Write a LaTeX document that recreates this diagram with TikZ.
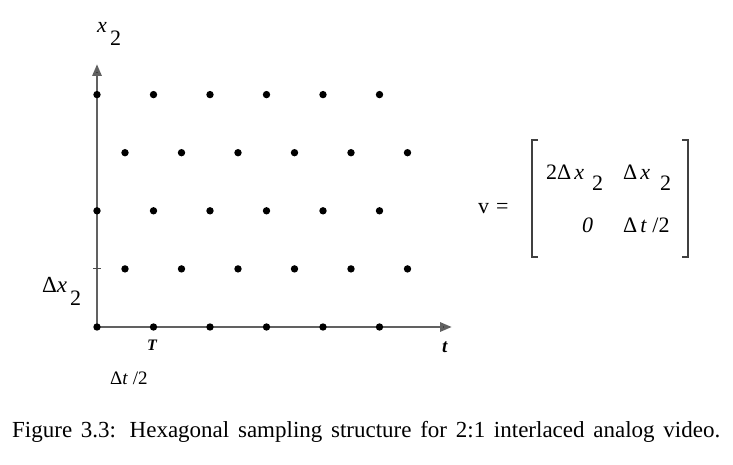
\documentclass[tikz,border=0pt]{standalone}
\usepackage{fontspec}
\setmainfont{Liberation Serif}
\usetikzlibrary{arrows.meta}
\newcommand{\fsz}[1]{\fontsize{#1}{#1}\selectfont}

\begin{document}
\begin{tikzpicture}[x=1pt, y=-1pt,
  dot/.style={fill=black},
  axis/.style={line width=2.8pt, draw=black!62, -{Triangle[length=12pt, width=9pt, fill=black]}},
  lbl/.style={inner sep=0pt, anchor=base west, font=\fsz{22}},
  brk/.style={line width=1.4pt, draw=black!75}
]
  \useasboundingbox[fill=white] (0,0) rectangle (733,465);
  % axes
  \coordinate (o) at (97,327);
  \coordinate (ytip) at (97,64);
  \coordinate (xtip) at (452,327);
  \draw[axis] (o) -- (ytip);
  \draw[axis] (o) -- (xtip);
  \coordinate (tickl) at (93,268.9);
  \coordinate (tickr) at (101,268.9);
  \draw[line width=1pt, black!70] (tickl) -- (tickr);
  % samples, even lines
  \foreach \r in {0,2,4}
    \foreach \i in {0,...,5}
      \fill[dot] (97+56.5*\i, 327-58.1*\r) circle (3.7);
  % samples, odd lines
  \foreach \r in {1,3}
    \foreach \i in {0,...,5}
      \fill[dot] (125+56.5*\i, 327-58.1*\r) circle (3.7);
  % axis labels
  \node[lbl] (xa) at (97,33) {\textit{x}};
  \node[lbl] (xa2) at (110,46) {2};
  \node[lbl, font=\fsz{23}] (dxa) at (42,292) {Δ\textit{x}};
  \node[lbl] (dxa2) at (70,305) {2};
  \node[lbl, font=\fsz{16}] (tper) at (147,350) {\textbf{\textit{T}}};
  \node[lbl, font=\fsz{19}] (tax) at (442,352) {\textbf{\textit{t}}};
  \node[lbl, font=\fsz{19}] (dt) at (110,384) {Δ\textit{t} /2};
  % sampling matrix
  \node[lbl] (v) at (478,214) {v\hspace{7pt}=};
  \node[lbl] (m11) at (546,180) {2Δ\hspace{3pt}\textit{x}};
  \node[lbl] (m11s) at (592,190) {2};
  \node[lbl] (m12) at (623,180) {Δ\hspace{3pt}\textit{x}};
  \node[lbl] (m12s) at (660,190) {2};
  \node[lbl] (m21) at (582,233) {\textit{0}};
  \node[lbl] (m22) at (623,233) {Δ\hspace{3pt}\textit{t} /2};
  \coordinate (lbt) at (538,140);
  \coordinate (lbb) at (538,257);
  \coordinate (rbt) at (682,140);
  \coordinate (rbb) at (682,257);
  \draw[brk] (lbt) -- ++(-6,0) |- (lbb);
  \draw[brk] (rbt) -- ++(6,0) |- (rbb);
  % caption
  \node[lbl, font=\fsz{23}] (cap) at (12,437)
    {\makebox[708pt][s]{Figure 3.3: Hexagonal sampling structure for 2:1 interlaced analog video.}};
\end{tikzpicture}
\end{document}
